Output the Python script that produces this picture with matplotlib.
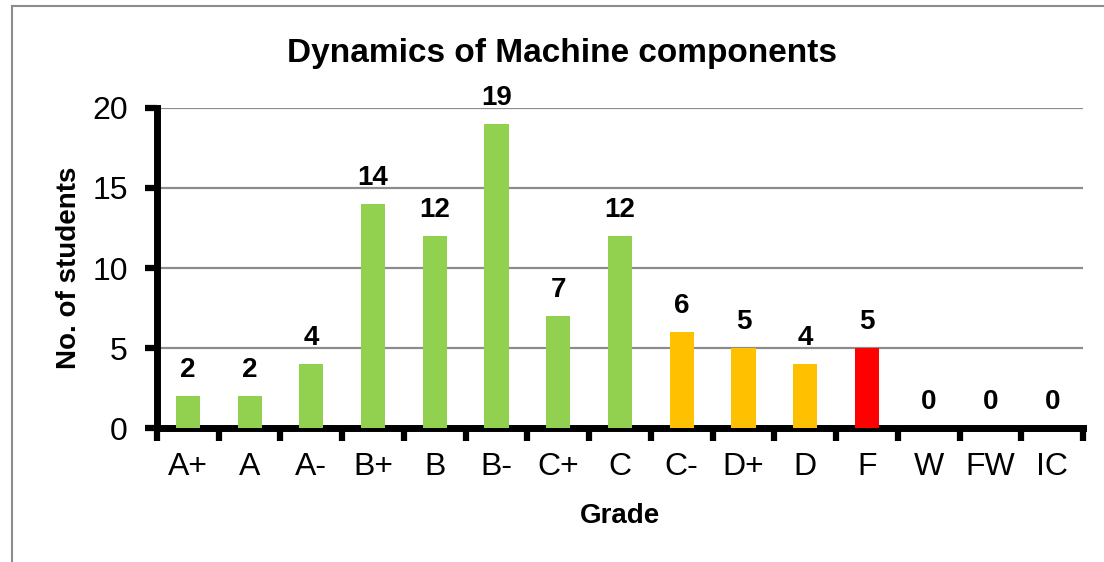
import matplotlib
matplotlib.use("Agg")
import matplotlib.pyplot as plt
from matplotlib.lines import Line2D
import numpy as np

grades = ["A+", "A", "A-", "B+", "B", "B-", "C+", "C", "C-", "D+", "D", "F", "W", "FW", "IC"]
students = [2, 2, 4, 14, 12, 19, 7, 12, 6, 5, 4, 5, 0, 0, 0]
bar_colors = ["#92D050"] * 8 + ["#FFC000"] * 3 + ["#FF0000"] + ["#92D050"] * 3

plt.rcParams["font.family"] = ["Liberation Sans", "DejaVu Sans"]

fig = plt.figure(figsize=(11.04, 5.62), dpi=100)
ax = fig.add_axes([157 / 1104, 1 - 428 / 562, (1083 - 157) / 1104, 320 / 562])

x = np.arange(len(grades))
ax.bar(x, students, width=0.39, color=bar_colors, zorder=3)

for xi, v in zip(x, students):
    ax.annotate(str(v), (xi, v), xytext=(0, 19), textcoords="offset points",
                ha="center", va="center", fontsize=20, fontweight="bold")

ax.set_xlim(-0.5, len(grades) - 0.5)
ax.set_ylim(0, 20)
ax.set_yticks([0, 5, 10, 15, 20])
ax.yaxis.grid(True, color="#8c8c8c", linewidth=1.6, zorder=0)

ax.set_xticks(x)
ax.set_xticklabels(grades)
ax.set_xticks(np.arange(-0.5, len(grades)), minor=True)
ax.tick_params(axis="x", which="major", length=0, labelsize=23, pad=17)
ax.tick_params(axis="x", which="minor", length=9, width=4.5, direction="out")
ax.tick_params(axis="y", length=9, width=4.5, labelsize=23, pad=12)

for side in ["top", "right"]:
    ax.spines[side].set_visible(False)
for side in ["left", "bottom"]:
    ax.spines[side].set_linewidth(5)
    ax.spines[side].set_capstyle("projecting")

ax.set_xlabel("Grade", fontsize=20, fontweight="bold")
ax.set_ylabel("No. of students", fontsize=20, fontweight="bold")
ax.xaxis.set_label_coords(0.5, -0.234)
ax.yaxis.set_label_coords(-0.081, 0.5)
fig.text(0.509, 0.905, "Dynamics of Machine components", ha="center", va="center",
         fontsize=24, fontweight="bold")

# outer chart border (top and left visible)
fig.add_artist(Line2D([12 / 1104, 1.0], [1 - 6 / 562, 1 - 6 / 562], color="#8c8c8c", linewidth=1.5))
fig.add_artist(Line2D([12 / 1104, 12 / 1104], [1 - 6 / 562, 0.0], color="#8c8c8c", linewidth=1.5))

fig.savefig("out.png", dpi=100)
